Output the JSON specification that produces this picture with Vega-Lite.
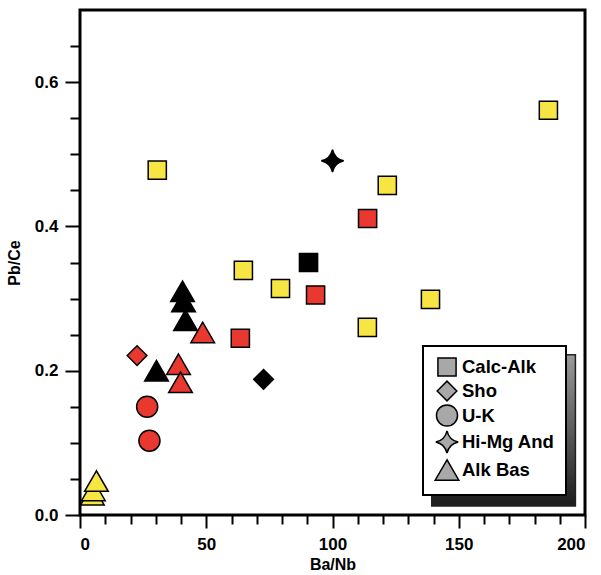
{
  "$schema": "https://vega.github.io/schema/vega-lite/v6.json",
  "width": 505,
  "height": 505,
  "autosize": {"type": "none"},
  "padding": {"left": 80, "top": 10, "right": 16, "bottom": 60},
  "background": "white",
  "config": {
    "font": "Liberation Sans",
    "view": {"stroke": "black", "strokeWidth": 3},
    "legend": {
      "strokeWidth": 2,
      "symbolFillColor": "#a8a8a8",
      "symbolBaseFillColor": "#a8a8a8",
      "symbolStrokeColor": "black",
      "symbolBaseStrokeColor": "black"
    },
    "axis": {
      "domain": false,
      "grid": false,
      "tickColor": "black",
      "tickWidth": 2,
      "tickCount": 40,
      "labelOverlap": false,
      "labelFont": "Liberation Sans",
      "labelFontWeight": "bold",
      "labelFontSize": 17,
      "labelColor": "black",
      "titleFont": "Liberation Sans",
      "titleFontWeight": "bold",
      "titleFontSize": 16,
      "titleColor": "black"
    }
  },
  "datasets": {
    "samples": [
      {"ba_nb": 90.5, "pb_ce": 0.350, "series": "Calc-Alk", "suite": "Suite 3"},
      {"ba_nb": 72.7, "pb_ce": 0.188, "series": "Sho", "suite": "Suite 3"},
      {"ba_nb": 100.0, "pb_ce": 0.491, "series": "Hi-Mg And", "suite": "Suite 3"},
      {"ba_nb": 30.3, "pb_ce": 0.200, "series": "Alk Bas", "suite": "Suite 3"},
      {"ba_nb": 41.8, "pb_ce": 0.270, "series": "Alk Bas", "suite": "Suite 3"},
      {"ba_nb": 41.0, "pb_ce": 0.296, "series": "Alk Bas", "suite": "Suite 3"},
      {"ba_nb": 40.6, "pb_ce": 0.310, "series": "Alk Bas", "suite": "Suite 3"},
      {"ba_nb": 113.9, "pb_ce": 0.411, "series": "Calc-Alk", "suite": "Suite 2"},
      {"ba_nb": 93.3, "pb_ce": 0.305, "series": "Calc-Alk", "suite": "Suite 2"},
      {"ba_nb": 63.5, "pb_ce": 0.245, "series": "Calc-Alk", "suite": "Suite 2"},
      {"ba_nb": 22.6, "pb_ce": 0.221, "series": "Sho", "suite": "Suite 2"},
      {"ba_nb": 26.6, "pb_ce": 0.150, "series": "U-K", "suite": "Suite 2"},
      {"ba_nb": 27.5, "pb_ce": 0.103, "series": "U-K", "suite": "Suite 2"},
      {"ba_nb": 48.6, "pb_ce": 0.253, "series": "Alk Bas", "suite": "Suite 2"},
      {"ba_nb": 39.0, "pb_ce": 0.209, "series": "Alk Bas", "suite": "Suite 2"},
      {"ba_nb": 39.8, "pb_ce": 0.184, "series": "Alk Bas", "suite": "Suite 2"},
      {"ba_nb": 30.6, "pb_ce": 0.478, "series": "Calc-Alk", "suite": "Suite 1"},
      {"ba_nb": 185.5, "pb_ce": 0.561, "series": "Calc-Alk", "suite": "Suite 1"},
      {"ba_nb": 121.7, "pb_ce": 0.457, "series": "Calc-Alk", "suite": "Suite 1"},
      {"ba_nb": 64.7, "pb_ce": 0.339, "series": "Calc-Alk", "suite": "Suite 1"},
      {"ba_nb": 79.4, "pb_ce": 0.314, "series": "Calc-Alk", "suite": "Suite 1"},
      {"ba_nb": 113.8, "pb_ce": 0.260, "series": "Calc-Alk", "suite": "Suite 1"},
      {"ba_nb": 138.8, "pb_ce": 0.299, "series": "Calc-Alk", "suite": "Suite 1"},
      {"ba_nb": 4.9, "pb_ce": 0.028, "series": "Alk Bas", "suite": "Suite 1"},
      {"ba_nb": 5.3, "pb_ce": 0.034, "series": "Alk Bas", "suite": "Suite 1"},
      {"ba_nb": 6.5, "pb_ce": 0.047, "series": "Alk Bas", "suite": "Suite 1"}
    ]
  },
  "layer": [
    {
      "description": "drop shadow behind the legend box",
      "data": {"values": [{}]},
      "mark": {
        "type": "rect",
        "stroke": "#222222",
        "strokeWidth": 1.5,
        "fill": {
          "gradient": "linear",
          "x1": 0.5, "y1": 0, "x2": 0.5, "y2": 1,
          "stops": [
            {"offset": 0, "color": "#9a9a9a"},
            {"offset": 1, "color": "#1c1c1c"}
          ]
        }
      },
      "encoding": {
        "x": {"datum": 139.3, "type": "quantitative"},
        "x2": {"datum": 196.2},
        "y": {"datum": 0.222, "type": "quantitative"},
        "y2": {"datum": 0.0125}
      }
    },
    {
      "data": {"name": "samples"},
      "mark": {"type": "point", "filled": true, "stroke": "black", "strokeWidth": 1.5, "opacity": 1},
      "encoding": {
        "x": {
          "field": "ba_nb",
          "type": "quantitative",
          "scale": {"domain": [0, 200], "nice": false},
          "axis": {
            "title": "Ba/Nb",
            "values": [0, 10, 20, 30, 40, 50, 60, 70, 80, 90, 100, 110, 120, 130, 140, 150, 160, 170, 180, 190, 200],
            "tickCount": 40,
            "labelOverlap": false,
            "labelExpr": "datum.value % 50 === 0 ? datum.label : ''",
            "tickSize": {"condition": {"test": "datum.value % 50 === 0", "value": 13}, "value": 9},
            "labelPadding": 8,
            "titlePadding": 4
          }
        },
        "y": {
          "field": "pb_ce",
          "type": "quantitative",
          "scale": {"domain": [0, 0.7], "nice": false},
          "axis": {
            "title": "Pb/Ce",
            "values": [0, 0.05, 0.1, 0.15, 0.2, 0.25, 0.3, 0.35, 0.4, 0.45, 0.5, 0.55, 0.6, 0.65],
            "tickCount": 40,
            "format": ".1f",
            "labelOverlap": false,
            "labelExpr": "round(datum.value * 100) % 20 === 0 ? datum.label : ''",
            "tickSize": {"condition": {"test": "round(datum.value * 100) % 20 === 0", "value": 15}, "value": 10},
            "labelPadding": 7,
            "titlePadding": 12
          }
        },
        "color": {
          "field": "suite",
          "type": "nominal",
          "scale": {"domain": ["Suite 1", "Suite 2", "Suite 3"], "range": ["#f6e543", "#e8382f", "#000000"]},
          "legend": null
        },
        "shape": {
          "field": "series",
          "type": "nominal",
          "scale": {
            "domain": ["Calc-Alk", "Sho", "U-K", "Hi-Mg And", "Alk Bas"],
            "range": ["square", "diamond", "circle", "M0,-1Q0.18,-0.18,1,0Q0.18,0.18,0,1Q-0.18,0.18,-1,0Q-0.18,-0.18,0,-1Z", "triangle-up"]
          },
          "legend": {
            "title": null,
            "orient": "none",
            "legendX": 343,
            "legendY": 336,
            "fillColor": "white",
            "strokeColor": "black",
            "padding": 11,
            "labelFont": "Liberation Sans",
            "labelFontWeight": "bold",
            "labelFontSize": 18.5,
            "labelColor": "black",
            "labelOffset": 2,
            "rowPadding": -3,
            "symbolFillColor": "#a8a8a8",
            "symbolStrokeColor": "black",
            "symbolStrokeWidth": 1.5,
            "symbolOpacity": 1
          }
        },
        "size": {
          "field": "series",
          "type": "nominal",
          "scale": {
            "domain": ["Calc-Alk", "Sho", "U-K", "Hi-Mg And", "Alk Bas"],
            "range": [330, 560, 340, 800, 860]
          }
        }
      }
    }
  ]
}
